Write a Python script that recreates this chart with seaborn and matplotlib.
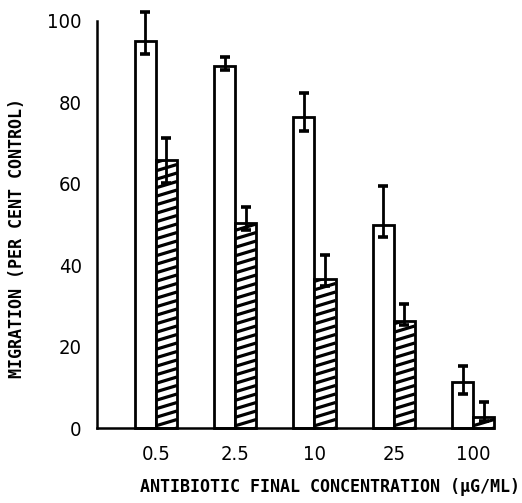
import numpy as np
import pandas as pd
import matplotlib
matplotlib.use("Agg")
import matplotlib.pyplot as plt
import seaborn as sns
from matplotlib.collections import LineCollection
from matplotlib.transforms import IdentityTransform

# ---- data ----
concentrations = ["0.5", "2.5", "10", "25", "100"]
series_names = ["open", "hatched"]
open_means = [95.0, 89.0, 76.5, 50.0, 11.3]
open_err_up = [7.2, 2.2, 5.8, 9.4, 3.9]
open_err_lo = [3.0, 1.0, 3.5, 3.0, 3.0]
hatched_means = [65.8, 50.3, 36.5, 26.4, 2.8]
hatched_err_up = [5.5, 4.1, 5.9, 4.0, 3.5]
hatched_err_lo = [5.6, 1.6, 1.5, 1.1, 1.0]
y_ticks = [0, 20, 40, 60, 80, 100]

df = pd.DataFrame({
    "conc": concentrations * 2,
    "series": [series_names[0]] * 5 + [series_names[1]] * 5,
    "value": open_means + hatched_means,
})

sns.set_style("white")
plt.rcParams["font.family"] = ["DejaVu Sans"]
plt.rcParams["font.stretch"] = "condensed"

fig = plt.figure(figsize=(5.22, 5.03), dpi=100)
ax = fig.add_axes([97 / 522, 75 / 503, 396 / 522, 407 / 503])

sns.barplot(data=df, x="conc", y="value", hue="series", order=concentrations,
            hue_order=series_names, palette=["white", "white"], width=0.53,
            edgecolor="black", linewidth=2.0, errorbar=None, legend=False,
            saturation=1, ax=ax)

ax.set_xlim(-0.744, 4.252)
ax.set_ylim(0, 100)

# error bars positioned at the bar centres
for cont, means, lo, up in [(ax.containers[0], open_means, open_err_lo, open_err_up),
                            (ax.containers[1], hatched_means, hatched_err_lo, hatched_err_up)]:
    xs = [p.get_x() + p.get_width() / 2 for p in cont.patches]
    ax.errorbar(xs, means, yerr=[lo, up], fmt="none", ecolor="black",
                elinewidth=2.0, capsize=3.6, capthick=2.6, clip_on=False, zorder=5)

# shallow diagonal stripes inside hatched bars
slope = 0.3
spacing = 8.5
for p in ax.containers[1].patches:
    p.set_clip_on(False)
    (x0, y0), (x1, y1) = ax.transData.transform(
        [(p.get_x(), p.get_y()), (p.get_x() + p.get_width(), p.get_y() + p.get_height())])
    w = x1 - x0
    segs = []
    yy = y0 - w * slope
    while yy < y1 + spacing:
        segs.append([(x0, yy), (x1, yy + w * slope)])
        yy += spacing
    lc = LineCollection(segs, colors="black", linewidths=2.3,
                        transform=IdentityTransform(), zorder=p.get_zorder() + 0.1)
    ax.add_collection(lc)
    lc.set_clip_path(p)
for p in ax.containers[0].patches:
    p.set_clip_on(False)

sns.despine(ax=ax)
for s in ["left", "bottom"]:
    ax.spines[s].set_linewidth(1.8)
    ax.spines[s].set_color("black")

ax.set_yticks(y_ticks)
ax.set_yticklabels([str(t) for t in y_ticks])
ax.tick_params(axis="y", direction="in", length=6, width=1.8, pad=11,
               labelsize=14.5, colors="black")
ax.tick_params(axis="x", length=0, pad=12, labelsize=14.5, colors="black")

mono = ["DejaVu Sans Mono", "DejaVu Sans"]
ax.set_xlabel("ANTIBIOTIC FINAL CONCENTRATION (µG/ML)", family=mono,
              fontweight="bold", fontstretch="normal", fontsize=12, color="black")
ax.xaxis.set_label_coords((330 - 97) / 396, -(478 - 428) / 407)
ax.set_ylabel("MIGRATION (PER CENT CONTROL)", family=mono,
              fontweight="bold", fontstretch="normal", fontsize=12, color="black")
ax.yaxis.set_label_coords(-(97 - 26) / 396, (428 - 238) / 407)

fig.savefig("out.png", dpi=100)
